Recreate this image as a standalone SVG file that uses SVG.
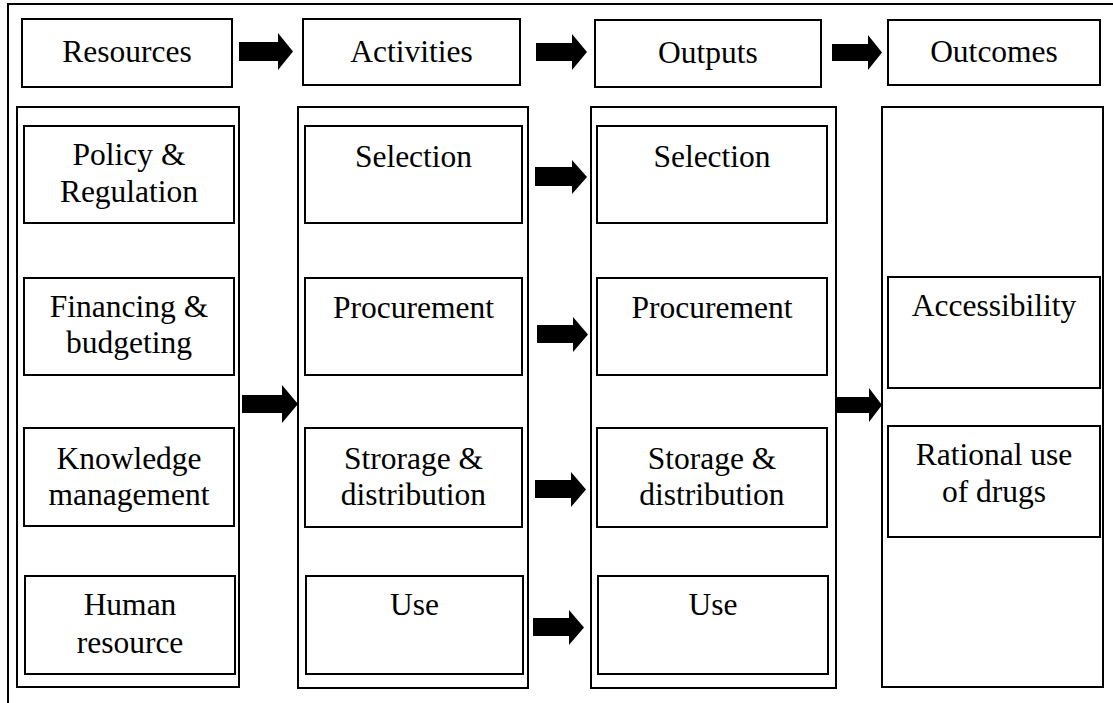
<svg xmlns="http://www.w3.org/2000/svg" width="1113" height="703" viewBox="0 0 1113 703">
  <style>
    .box { fill: #ffffff; stroke: #000000; stroke-width: 2; }
    .col { fill: none; stroke: #000000; stroke-width: 2; }
    .frame { fill: none; stroke: #000000; stroke-width: 2; }
    text { font-family: 'Liberation Serif', 'Times New Roman', serif; font-size: 31.5px; fill: #000000; text-anchor: middle; }
    .arrow { fill: #000000; }
  </style>

  <rect width="1113" height="703" fill="#ffffff"/>

  <!-- outer frame (open at right and bottom edges) -->
  <path class="frame" d="M8,703 V4 H1113"/>

  <!-- header row -->
  <g id="hdr-resources"><rect class="box" x="22" y="19" width="210" height="68"/><text x="127" y="62">Resources</text></g>
  <g id="hdr-activities"><rect class="box" x="303" y="19" width="217" height="66"/><text x="411.5" y="62">Activities</text></g>
  <g id="hdr-outputs"><rect class="box" x="595" y="20" width="226" height="67"/><text x="708" y="63">Outputs</text></g>
  <g id="hdr-outcomes"><rect class="box" x="888" y="20" width="212" height="65"/><text x="994" y="62">Outcomes</text></g>

  <!-- column containers -->
  <g id="col-resources"><rect class="col" x="17" y="107" width="222" height="580"/></g>
  <g id="col-activities"><rect class="col" x="298" y="107" width="230" height="581"/></g>
  <g id="col-outputs"><rect class="col" x="591" y="107" width="245" height="581"/></g>
  <g id="col-outcomes"><rect class="col" x="882" y="107" width="221" height="580"/></g>

  <!-- resources -->
  <g id="res-policy"><rect class="box" x="24" y="126" width="210" height="97"/><text x="129" y="165">Policy &amp;</text><text x="129" y="202">Regulation</text></g>
  <g id="res-financing"><rect class="box" x="24" y="278" width="210" height="97"/><text x="129" y="317">Financing &amp;</text><text x="129" y="353">budgeting</text></g>
  <g id="res-knowledge"><rect class="box" x="24" y="428" width="210" height="98"/><text x="129" y="469">Knowledge</text><text x="129" y="505">management</text></g>
  <g id="res-human"><rect class="box" x="25" y="576" width="210" height="98"/><text x="130" y="615">Human</text><text x="130" y="653">resource</text></g>

  <!-- activities -->
  <g id="act-selection"><rect class="box" x="305" y="126" width="217" height="97"/><text x="413.5" y="167">Selection</text></g>
  <g id="act-procurement"><rect class="box" x="305" y="278" width="217" height="97"/><text x="413.5" y="318">Procurement</text></g>
  <g id="act-storage"><rect class="box" x="305" y="428" width="217" height="99"/><text x="413.5" y="469">Strorage &amp;</text><text x="413.5" y="505">distribution</text></g>
  <g id="act-use"><rect class="box" x="306" y="576" width="217" height="98"/><text x="414.5" y="615">Use</text></g>

  <!-- outputs -->
  <g id="out-selection"><rect class="box" x="597" y="126" width="230" height="97"/><text x="712" y="167">Selection</text></g>
  <g id="out-procurement"><rect class="box" x="597" y="278" width="230" height="97"/><text x="712" y="318">Procurement</text></g>
  <g id="out-storage"><rect class="box" x="597" y="428" width="230" height="99"/><text x="712" y="469">Storage &amp;</text><text x="712" y="505">distribution</text></g>
  <g id="out-use"><rect class="box" x="598" y="576" width="230" height="98"/><text x="713" y="615">Use</text></g>

  <!-- outcomes -->
  <g id="oc-access"><rect class="box" x="888" y="277" width="212" height="111"/><text x="994" y="316">Accessibility</text></g>
  <g id="oc-rational"><rect class="box" x="888" y="426" width="212" height="111"/><text x="994" y="465">Rational use</text><text x="994" y="502">of drugs</text></g>

  <!-- connectors: block arrows -->
  <g id="connectors" class="arrow">
    <path d="M239,42 H278 V33 L293,51.5 L278,70 V61 H239 Z"/>
    <path d="M536,43 H572 V34 L587,52 L572,70 V61 H536 Z"/>
    <path d="M832,44 H868 V35 L882,52.5 L868,70 V61 H832 Z"/>
    <path d="M242,395 H282 V385 L298,404 L282,423 V413 H242 Z"/>
    <path d="M535,167 H572 V160 L587,177 L572,194 V186 H535 Z"/>
    <path d="M537,325 H573 V317 L588,334.5 L573,352 V343 H537 Z"/>
    <path d="M535,480 H571 V472 L586,489.5 L571,507 V498 H535 Z"/>
    <path d="M533,618 H569 V610 L584,627.5 L569,645 V636 H533 Z"/>
    <path d="M837,397 H869 V388 L882,405 L869,422 V413 H837 Z"/>
  </g>
</svg>
